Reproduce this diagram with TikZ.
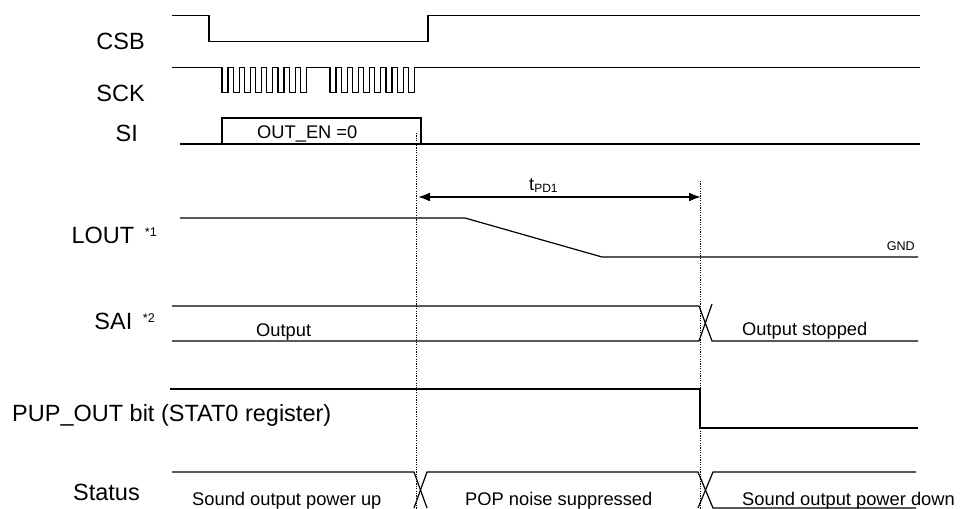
\documentclass[tikz,border=0pt]{standalone}
\usepackage{fontspec}
\setmainfont{Liberation Sans}
\usetikzlibrary{arrows.meta}
\newcommand{\sigfont}{\fontsize{23.5}{27}\selectfont}
\newcommand{\txtfont}{\fontsize{18.3}{21}\selectfont}
\newcommand{\tinyfont}{\fontsize{12.6}{14}\selectfont}
\newcommand{\noteref}[1]{\hspace{0.45em}\raisebox{7pt}{\tinyfont #1}}

\begin{document}
\begin{tikzpicture}[x=1pt,y=-1pt,
  wave/.style={line width=1.2pt},
  marker/.style={line width=1pt, dash pattern=on 1.2pt off 1.2pt},
  signame/.style={font=\sigfont, inner sep=0pt, anchor=base east},
  wavetext/.style={font=\txtfont, inner sep=0pt, anchor=base west}]
\useasboundingbox (0,0) rectangle (962,509);

% signal names
\node[signame] (csb) at (145,49.3) {CSB};
\node[signame] (sck) at (145,101.3) {SCK};
\node[signame] (si) at (138,141.3) {SI};
\node[signame] (lout) at (157,243) {LOUT\noteref{*1}};
\node[signame] (sai) at (155,329.7) {SAI\noteref{*2}};
\node[signame, anchor=base west] (pup) at (12,421.7) {PUP\_OUT bit (STAT0 register)};
\node[signame] (status) at (140,500.7) {Status};

% serial interface
\draw[wave] (172,15.7) -- (209,15.7) -- (209,41.7) -- (428,41.7) -- (428,15.7) -- (920,15.7);
\draw[wave] (172,67.5) -- (222,67.5)
  \foreach \k in {1,...,8} { -- ++(0,25.2) -- ++(6,0) -- ++(0,-25.2) -- ++(5.2,0) }
  -- (330,67.5)
  \foreach \k in {1,...,8} { -- ++(0,25.2) -- ++(6,0) -- ++(0,-25.2) -- ++(5.2,0) }
  -- (920,67.5);
\draw[wave] (180,144) -- (920,144);
\draw[wave] (222,118) rectangle (421,144);
\node[wavetext] (outen) at (257,138.3) {OUT\_EN =0};

% timing markers
\draw[marker] (416,133) -- (416,512);
\draw[marker] (700,181) -- (700,512);
\coordinate (pdstart) at (418,197);
\coordinate (pdend) at (701,197);
\draw[line width=1.8pt, {Latex[length=12pt,width=9pt]}-{Latex[length=12pt,width=9pt]}] (pdstart) -- (pdend);
\node[wavetext] (tpd) at (529,190) {t\raisebox{-2.7pt}{\fontsize{12}{14}\selectfont PD1}};

% LOUT
\draw[wave] (180,218) -- (465,218) -- (602,257) -- (918,257);
\node[font=\tinyfont, inner sep=0pt, anchor=base east] (gnd) at (915,250.7) {GND};

% SAI
\draw[wave] (172,306) -- (699,306) -- (712,341) -- (918,341);
\draw[wave] (172,341) -- (699,341) -- (712,304);
\node[wavetext] (saiout) at (256,336.7) {Output};
\node[wavetext] (saistop) at (742,335) {Output stopped};

% PUP_OUT
\draw[wave] (170,389) -- (700,389) -- (700,428) -- (918,428);

% Status
\draw[wave] (172,472) -- (414,472) -- (427,508);
\draw[wave] (414,508) -- (427,472) -- (698,472) -- (713,508) -- (916,508);
\draw[wave] (698,508) -- (713,472) -- (916,472);
\node[wavetext] (pwrup) at (192,505) {Sound output power up};
\node[wavetext] (popnoise) at (465,505) {POP noise suppressed};
\node[wavetext] (pwrdown) at (742,505) {Sound output power down};
\end{tikzpicture}
\end{document}
